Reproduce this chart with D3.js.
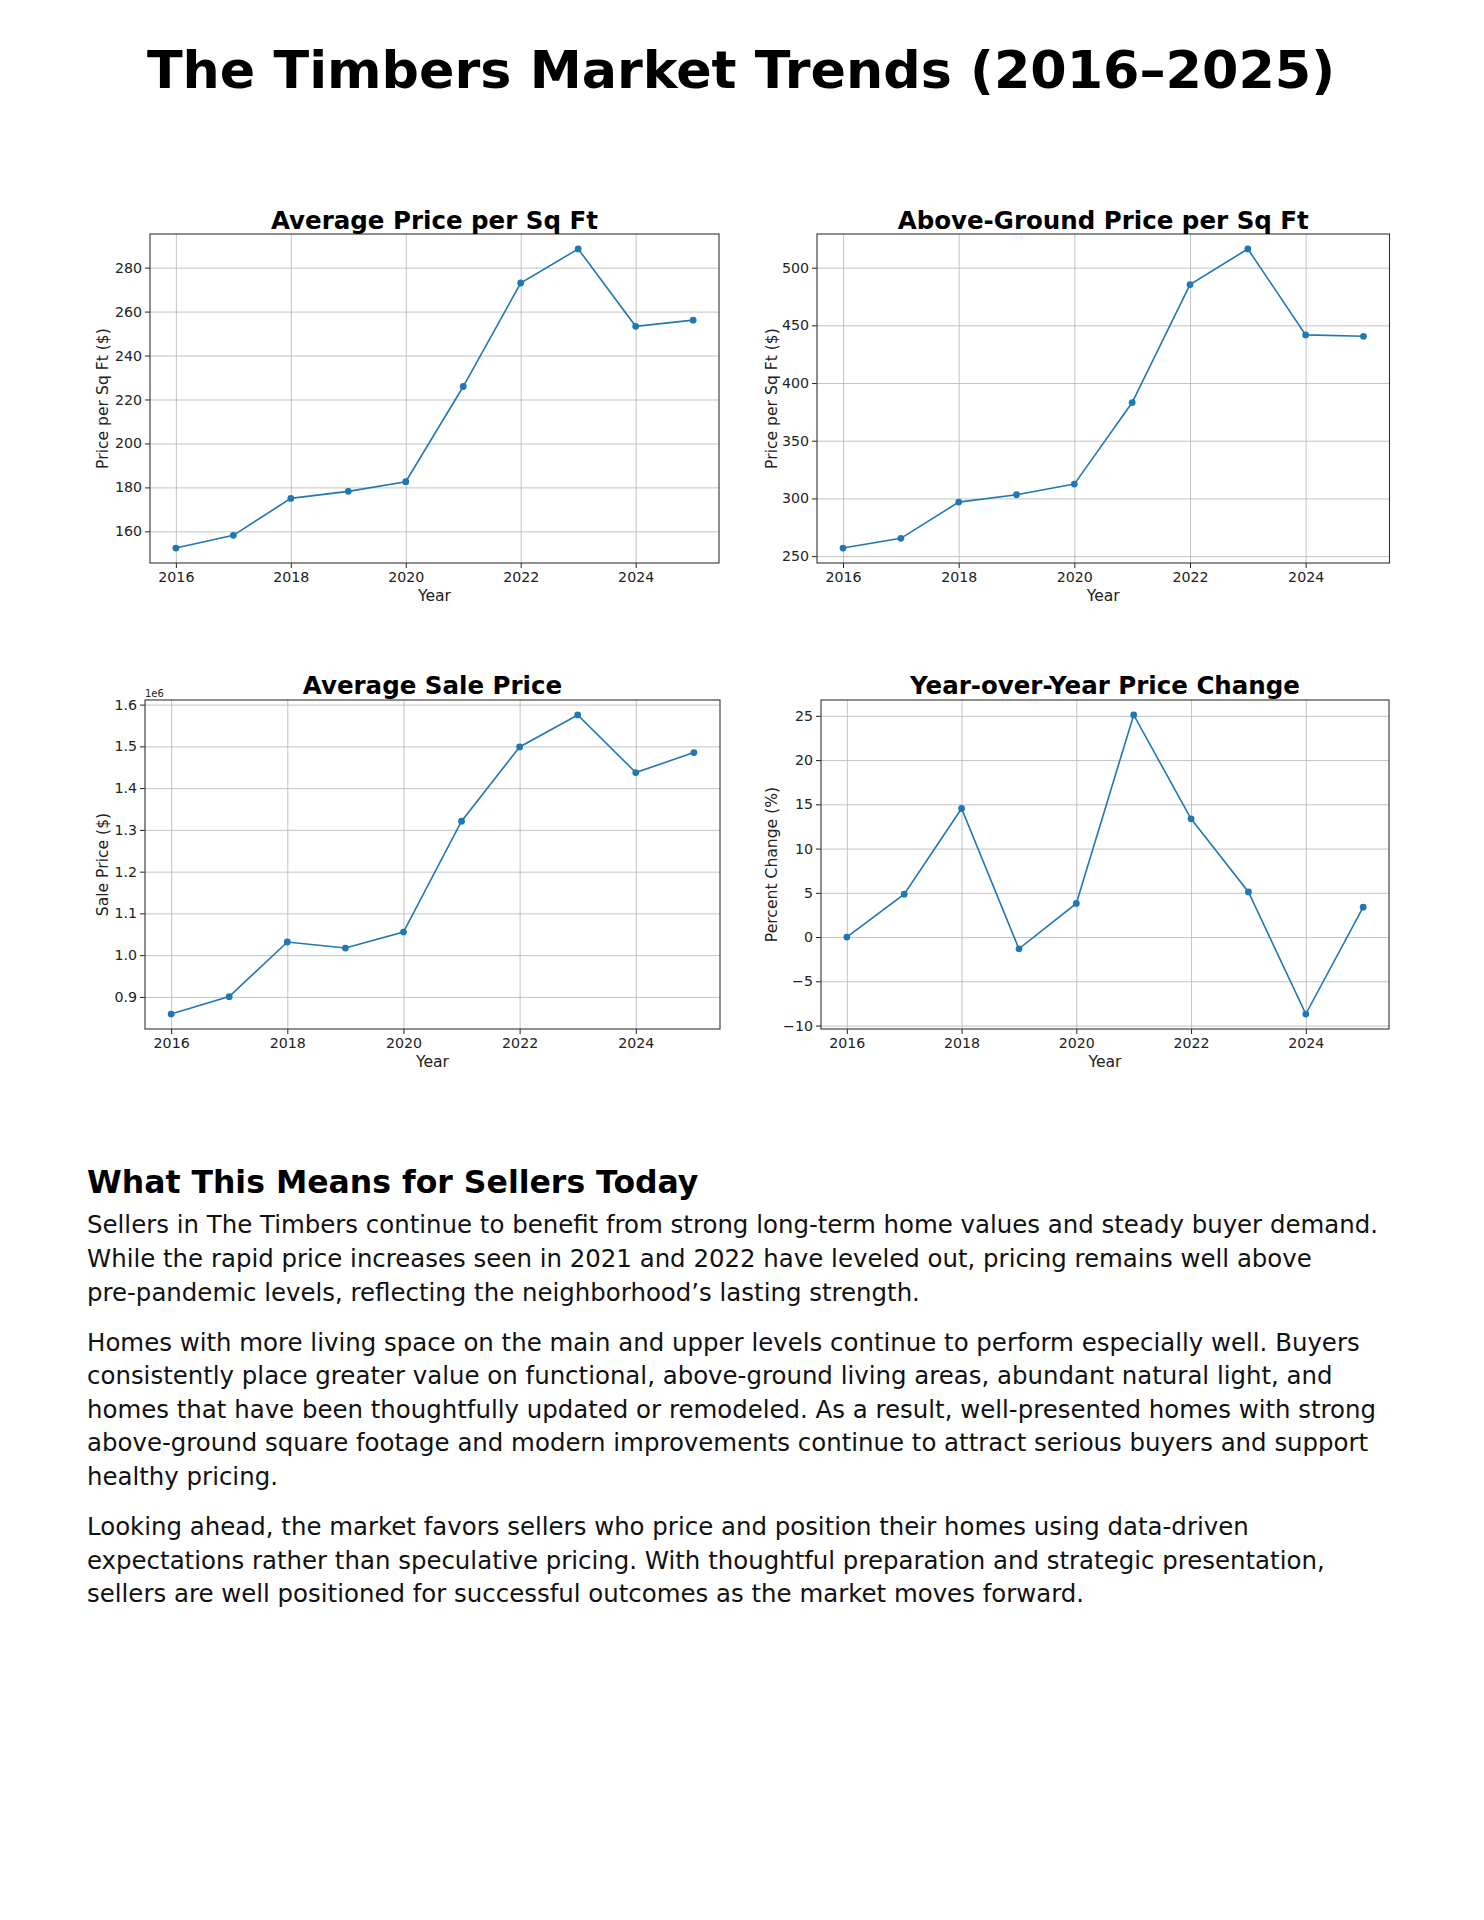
<!doctype html>
<html lang="en">
<head>
<meta charset="utf-8">
<title>The Timbers Market Trends (2016–2025)</title>
<style type="text/css">
  body { margin: 0; background-color: #ffffff; }
  svg { display: block; font-family: "DejaVu Sans", sans-serif; }
</style>
</head>
<body>
<script src="https://d3js.org/d3.v7.min.js"></script>
<script>

// Data
var years = [2016, 2017, 2018, 2019, 2020, 2021, 2022, 2023, 2024, 2025];
var avgPricePerSqFt = [152.4, 158.2, 175.0, 178.2, 182.6, 225.9, 273.0, 288.5, 253.3, 256.1];
var aboveGroundPricePerSqFt = [257.0, 265.4, 296.8, 303.2, 312.4, 383.1, 485.3, 516.2, 441.7, 440.5];
var avgSalePrice = [859000, 900700, 1031500, 1017000, 1055400, 1320900, 1498600, 1575200, 1437300, 1485200];
var yoyChange = [0, 4.85, 14.53, -1.33, 3.8, 25.1, 13.36, 5.1, -8.7, 3.38];

// Tick labels
var yearTicks = [2016, 2018, 2020, 2022, 2024];
var ppsfTicks = [160, 180, 200, 220, 240, 260, 280];
var aboveTicks = [250, 300, 350, 400, 450, 500];
var saleTicks = [900000, 1000000, 1100000, 1200000, 1300000, 1400000, 1500000, 1600000];
var yoyTicks = [-10, -5, 0, 5, 10, 15, 20, 25];

// Text block
var pageTitle = "The Timbers Market Trends (2016–2025)";
var heading = "What This Means for Sellers Today";
var paragraphs = [
  ["Sellers in The Timbers continue to benefit from strong long-term home values and steady buyer demand.",
   "While the rapid price increases seen in 2021 and 2022 have leveled out, pricing remains well above",
   "pre-pandemic levels, reflecting the neighborhood’s lasting strength."],
  ["Homes with more living space on the main and upper levels continue to perform especially well. Buyers",
   "consistently place greater value on functional, above-ground living areas, abundant natural light, and",
   "homes that have been thoughtfully updated or remodeled. As a result, well-presented homes with strong",
   "above-ground square footage and modern improvements continue to attract serious buyers and support",
   "healthy pricing."],
  ["Looking ahead, the market favors sellers who price and position their homes using data-driven",
   "expectations rather than speculative pricing. With thoughtful preparation and strategic presentation,",
   "sellers are well positioned for successful outcomes as the market moves forward."]
];

var w = 1484;
var h = 1920;
var blue = "#1f77b4";

var svg = d3.select("body")
  .append("svg")
  .attr("width", w)
  .attr("height", h);

svg.append("rect").attr("width", w).attr("height", h).attr("fill", "#fff");

// page title
svg.append("text")
  .attr("x", 741)
  .attr("y", 88)
  .attr("text-anchor", "middle")
  .style("font-size", "52.3px")
  .style("font-weight", "bold")
  .attr("fill", "#000")
  .text(pageTitle);

var panels = [
  {title: "Average Price per Sq Ft", ylabel: "Price per Sq Ft ($)", values: avgPricePerSqFt,
   ticks: ppsfTicks, fmt: d3.format("d"), x0: 150, x1: 719, y0: 234, y1: 563, ylabX: 102.5, titleGap: 5},
  {title: "Above-Ground Price per Sq Ft", ylabel: "Price per Sq Ft ($)", values: aboveGroundPricePerSqFt,
   ticks: aboveTicks, fmt: d3.format("d"), x0: 817, x1: 1389.5, y0: 234, y1: 563, ylabX: 771.4, titleGap: 5},
  {title: "Average Sale Price", ylabel: "Sale Price ($)", values: avgSalePrice,
   ticks: saleTicks, fmt: function(d) { return (d / 1e6).toFixed(1); }, x0: 145, x1: 720, y0: 700, y1: 1029,
   ylabX: 102.5, titleGap: 6.5, offset: "1e6"},
  {title: "Year-over-Year Price Change", ylabel: "Percent Change (%)", values: yoyChange,
   ticks: yoyTicks, fmt: d3.format("d"), x0: 821, x1: 1389, y0: 700, y1: 1029, ylabX: 771.4, titleGap: 6.5}
];

panels.forEach(function(p) {
  var x = d3.scaleLinear()
    .domain([years[0] - 0.45, years[years.length - 1] + 0.45])
    .range([p.x0, p.x1]);

  // matplotlib style 5% margins
  var lo = d3.min(p.values), hi = d3.max(p.values), pad = (hi - lo) * 0.05;
  var y = d3.scaleLinear()
    .domain([lo - pad, hi + pad])
    .range([p.y1, p.y0]);

  var g = svg.append("g");

  // grid
  g.append("g")
    .attr("transform", "translate(0," + p.y1 + ")")
    .call(d3.axisBottom(x).tickValues(yearTicks).tickSize(-(p.y1 - p.y0)).tickFormat(""))
    .call(function(s) { s.select(".domain").remove(); })
    .selectAll("line").attr("stroke", "#b0b0b0").attr("stroke-opacity", 0.75).attr("stroke-width", 1);
  g.append("g")
    .attr("transform", "translate(" + p.x0 + ",0)")
    .call(d3.axisLeft(y).tickValues(p.ticks).tickSize(-(p.x1 - p.x0)).tickFormat(""))
    .call(function(s) { s.select(".domain").remove(); })
    .selectAll("line").attr("stroke", "#b0b0b0").attr("stroke-opacity", 0.75).attr("stroke-width", 1);

  // line + markers
  var pts = years.map(function(yr, i) { return [yr, p.values[i]]; });
  g.append("path")
    .datum(pts)
    .attr("fill", "none")
    .attr("stroke", blue)
    .attr("stroke-width", 1.6)
    .attr("d", d3.line().x(function(d) { return x(d[0]); }).y(function(d) { return y(d[1]); }));
  g.selectAll("circle.pt")
    .data(pts)
    .enter()
    .append("circle")
    .attr("class", "pt")
    .attr("cx", function(d) { return x(d[0]); })
    .attr("cy", function(d) { return y(d[1]); })
    .attr("r", 3.4)
    .attr("fill", blue);

  // axes
  var xa = g.append("g")
    .attr("transform", "translate(0," + p.y1 + ")")
    .call(d3.axisBottom(x).tickValues(yearTicks).tickFormat(d3.format("d")).tickSize(5).tickPadding(4));
  var ya = g.append("g")
    .attr("transform", "translate(" + p.x0 + ",0)")
    .call(d3.axisLeft(y).tickValues(p.ticks).tickFormat(p.fmt).tickSize(5).tickPadding(3));
  [xa, ya].forEach(function(a) {
    a.select(".domain").remove();
    a.selectAll("line").attr("stroke", "#222").attr("stroke-width", 1);
    a.selectAll("text").attr("fill", "#222").style("font-size", "14.2px").style("font-family", "DejaVu Sans");
  });

  // frame
  g.append("rect")
    .attr("x", p.x0).attr("y", p.y0)
    .attr("width", p.x1 - p.x0).attr("height", p.y1 - p.y0)
    .attr("fill", "none").attr("stroke", "#333").attr("stroke-width", 1.1);

  // labels
  g.append("text")
    .attr("x", (p.x0 + p.x1) / 2)
    .attr("y", p.y0 - p.titleGap)
    .attr("text-anchor", "middle")
    .style("font-size", "24.5px")
    .style("font-weight", "bold")
    .attr("fill", "#000")
    .text(p.title);
  g.append("text")
    .attr("x", (p.x0 + p.x1) / 2)
    .attr("y", p.y1 + 37.5)
    .attr("text-anchor", "middle")
    .style("font-size", "15.6px")
    .attr("fill", "#222")
    .text("Year");
  g.append("text")
    .attr("transform", "translate(" + p.ylabX + "," + (p.y0 + p.y1) / 2 + ") rotate(-90)")
    .attr("dy", "0.35em")
    .attr("text-anchor", "middle")
    .style("font-size", "15.6px")
    .attr("fill", "#222")
    .text(p.ylabel);
  if (p.offset) {
    g.append("text")
      .attr("x", p.x0)
      .attr("y", p.y0 - 3.5)
      .style("font-size", "10px")
      .attr("fill", "#222")
      .text(p.offset);
  }
});

// commentary
svg.append("text")
  .attr("x", 87)
  .attr("y", 1193.3)
  .style("font-size", "31.5px")
  .style("font-weight", "bold")
  .attr("fill", "#000")
  .text(heading);

var lineH = 33.6, paraGap = 50.1, yy = 1233.3;
paragraphs.forEach(function(lines, pi) {
  if (pi > 0) yy += paraGap - lineH;
  lines.forEach(function(t) {
    svg.append("text")
      .attr("x", 87)
      .attr("y", yy)
      .style("font-size", "24.45px")
      .attr("fill", "#111")
      .text(t);
    yy += lineH;
  });
});

</script>
</body>
</html>
